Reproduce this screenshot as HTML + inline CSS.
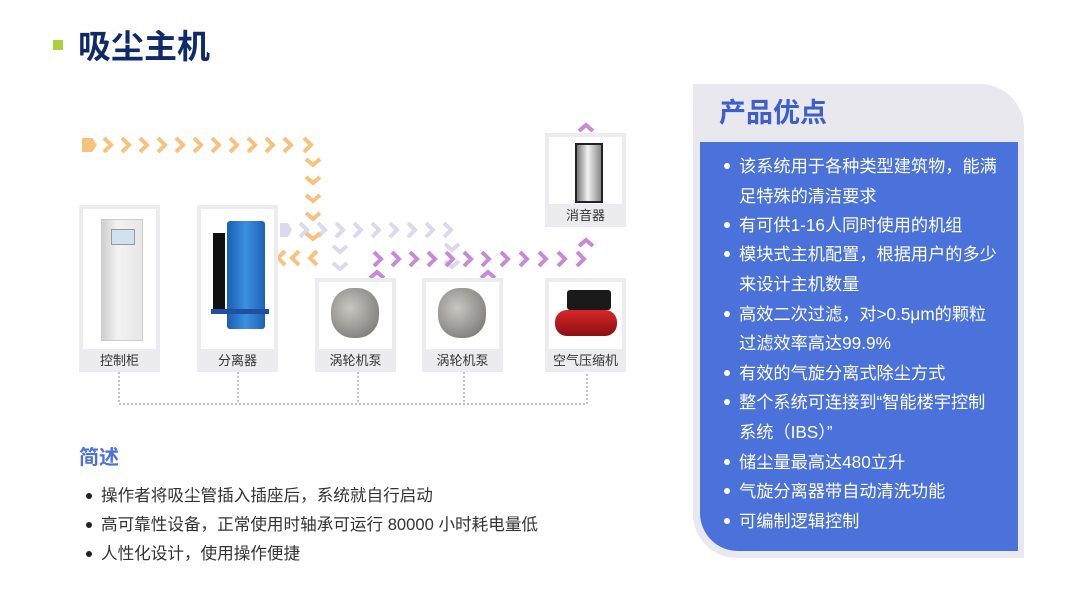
<!DOCTYPE html>
<html><head><meta charset="utf-8"><style>
*{margin:0;padding:0;box-sizing:border-box}
body{width:1080px;height:608px;background:#fff;position:relative;overflow:hidden;font-family:"Liberation Sans","Noto Sans CJK SC",sans-serif}
.abs{position:absolute}
.panel{left:693px;top:84px;width:331px;height:474px;background:#e8e8ee;border-radius:0 44px 0 44px}
.blue{left:700px;top:142px;width:318px;height:409px;background:#4a72da;border-radius:0 0 0 38px}
.rt{position:absolute;left:739px;font-size:17.2px;color:#fff;line-height:20px;white-space:nowrap}
.rb{position:absolute;left:724px;width:6px;height:6px;border-radius:50%;background:#fff}
.lt{position:absolute;left:101px;font-size:16.6px;color:#333;white-space:nowrap;line-height:20px}
.lb{position:absolute;left:86px;width:6px;height:6px;border-radius:50%;background:#222}
</style></head><body>
<div class="abs" style="left:53px;top:40px;width:10px;height:10px;background:#a9d23a"></div>
<div class="abs" style="left:78px;top:27px;font-size:33px;font-weight:bold;color:#0f2a6b;line-height:40px">吸尘主机</div>

<svg class="abs" style="left:0;top:0" width="690" height="430" viewBox="0 0 690 430">
<g fill="none" stroke-width="4" stroke-linecap="butt" stroke-linejoin="miter">
<path d="M280 223 h8 l4 7 l-4 7 h-8z" fill="#dcd8f1" stroke="none"/>
<g stroke="#dcd8f1">
<path d="M300 223l7 7-7 7M318 223l7 7-7 7M336 223l7 7-7 7M354 223l7 7-7 7M372 223l7 7-7 7M390 223l7 7-7 7M408 223l7 7-7 7M426 223l7 7-7 7M444 223l7 7-7 7"/>
<path d="M333 246l7 6 7-6M333 263l7 6 7-6M445 244l7 6 7-6M445 261l7 6 7-6"/>
</g>
<path d="M82 138 h10 l5 7 l-5 7 h-10z" fill="#f8c27c" stroke="none"/>
<g stroke="#f8c27c">
<path d="M104 138l7 7-7 7M122 138l7 7-7 7M140 138l7 7-7 7M158 138l7 7-7 7M176 138l7 7-7 7M194 138l7 7-7 7M212 138l7 7-7 7M230 138l7 7-7 7M248 138l7 7-7 7M266 138l7 7-7 7M284 138l7 7-7 7M304 138l7 7-7 7"/>
<path d="M306 159l7 6 7-6M306 177l7 6 7-6M306 195l7 6 7-6M306 213l7 6 7-6M306 233l7 6 7-6"/>
<path d="M317 251l-7 7 7 7M299 251l-7 7 7 7M285 251l-7 7 7 7"/>
</g>
<g stroke="#c88ad6">
<path d="M374 252l7 7-7 7M392 252l7 7-7 7M410 252l7 7-7 7M428 252l7 7-7 7M446 252l7 7-7 7M464 252l7 7-7 7M482 252l7 7-7 7M501 252l7 7-7 7M520 252l7 7-7 7M539 252l7 7-7 7M558 252l7 7-7 7M577 252l7 7-7 7"/>
<path d="M370 278l7-6 7 6M481 278l7-6 7 6M579 246l7-6 7 6M579 131l7-6 7 6"/>
</g>
</g>
<path d="M119 372V404H587V372M238 372V404M358 372V404M464 372V404" fill="none" stroke="#888" stroke-width="1" stroke-dasharray="2 2"/>
</svg>

<div class="abs" style="left:79px;top:205px;width:81px;height:167px;background:#ebebf0;padding:4px"><div style="background:#fff;height:140px;position:relative">
<div class="abs" style="left:18px;top:10px;width:42px;height:122px;background:linear-gradient(90deg,#cfcfcf,#f3f3f3 40%,#e6e6e6);border:1px solid #ccc"></div>
<div class="abs" style="left:28px;top:20px;width:24px;height:16px;background:#cfe0ee;border:1px solid #999"></div></div></div>
<div class="abs" style="left:197px;top:205px;width:81px;height:167px;background:#ebebf0;padding:4px"><div style="background:#fff;height:140px;position:relative">
<div class="abs" style="left:26px;top:12px;width:38px;height:108px;background:linear-gradient(90deg,#1b5fb0,#3c8fe0 50%,#1c62b4);border-radius:3px"></div>
<div class="abs" style="left:12px;top:24px;width:12px;height:76px;background:#111"></div>
<div class="abs" style="left:10px;top:100px;width:58px;height:5px;background:#1f4fa0"></div></div></div>
<div class="abs" style="left:315px;top:278px;width:81px;height:94px;background:#ebebf0;padding:4px"><div style="background:#fff;height:67px;position:relative">
<div class="abs" style="left:12px;top:6px;width:48px;height:50px;background:radial-gradient(circle at 40% 40%,#c9c7c2,#6d6b67);border-radius:45%"></div></div></div>
<div class="abs" style="left:422px;top:278px;width:81px;height:94px;background:#ebebf0;padding:4px"><div style="background:#fff;height:67px;position:relative">
<div class="abs" style="left:12px;top:6px;width:48px;height:50px;background:radial-gradient(circle at 40% 40%,#c9c7c2,#6d6b67);border-radius:45%"></div></div></div>
<div class="abs" style="left:545px;top:278px;width:81px;height:94px;background:#ebebf0;padding:4px"><div style="background:#fff;height:67px;position:relative">
<div class="abs" style="left:18px;top:8px;width:44px;height:20px;background:#1a1a1a;border-radius:3px"></div>
<div class="abs" style="left:6px;top:28px;width:62px;height:26px;background:linear-gradient(#d8252a,#8c1012);border-radius:12px"></div></div></div>
<div class="abs" style="left:545px;top:133px;width:81px;height:94px;background:#ebebf0;padding:4px"><div style="background:#fff;height:67px;position:relative">
<div class="abs" style="left:26px;top:6px;width:28px;height:60px;background:linear-gradient(90deg,#777,#f2f2f2 45%,#888);border:2px solid #222"></div></div></div>
<div class="abs" style="left:79px;top:350px;width:81px;font-size:13px;color:#333;text-align:center;line-height:22px">控制柜</div>
<div class="abs" style="left:197px;top:350px;width:81px;font-size:13px;color:#333;text-align:center;line-height:22px">分离器</div>
<div class="abs" style="left:315px;top:350px;width:81px;font-size:13px;color:#333;text-align:center;line-height:22px">涡轮机泵</div>
<div class="abs" style="left:422px;top:350px;width:81px;font-size:13px;color:#333;text-align:center;line-height:22px">涡轮机泵</div>
<div class="abs" style="left:545px;top:350px;width:81px;font-size:13px;color:#333;text-align:center;line-height:22px">空气压缩机</div>
<div class="abs" style="left:545px;top:205px;width:81px;font-size:13px;color:#333;text-align:center;line-height:22px">消音器</div>

<div class="abs" style="left:79px;top:445px;font-size:20px;font-weight:bold;color:#4a72da;line-height:26px">简述</div>
<div class="lb" style="top:493px"></div><div class="lt" style="top:486px">操作者将吸尘管插入插座后，系统就自行启动</div>
<div class="lb" style="top:522px"></div><div class="lt" style="top:515px">高可靠性设备，正常使用时轴承可运行 80000 小时耗电量低</div>
<div class="lb" style="top:551px"></div><div class="lt" style="top:544px">人性化设计，使用操作便捷</div>

<div class="abs panel"></div>
<div class="abs blue"></div>
<div class="abs" style="left:719px;top:96px;font-size:27px;font-weight:bold;color:#3d5fcc;line-height:34px">产品优点</div>
<div class="rb" style="top:163px"></div><div class="rt" style="top:156px">该系统用于各种类型建筑物，能满</div>
<div class="rt" style="top:186px">足特殊的清洁要求</div>
<div class="rb" style="top:222px"></div><div class="rt" style="top:215px">有可供1-16人同时使用的机组</div>
<div class="rb" style="top:251px"></div><div class="rt" style="top:244px">模块式主机配置，根据用户的多少</div>
<div class="rt" style="top:274px">来设计主机数量</div>
<div class="rb" style="top:311px"></div><div class="rt" style="top:304px">高效二次过滤，对&gt;0.5μm的颗粒</div>
<div class="rt" style="top:333px">过滤效率高达99.9%</div>
<div class="rb" style="top:370px"></div><div class="rt" style="top:363px">有效的气旋分离式除尘方式</div>
<div class="rb" style="top:399px"></div><div class="rt" style="top:392px">整个系统可连接到“智能楼宇控制</div>
<div class="rt" style="top:422px">系统（IBS）”</div>
<div class="rb" style="top:459px"></div><div class="rt" style="top:452px">储尘量最高达480立升</div>
<div class="rb" style="top:488px"></div><div class="rt" style="top:481px">气旋分离器带自动清洗功能</div>
<div class="rb" style="top:518px"></div><div class="rt" style="top:511px">可编制逻辑控制</div>
</body></html>
